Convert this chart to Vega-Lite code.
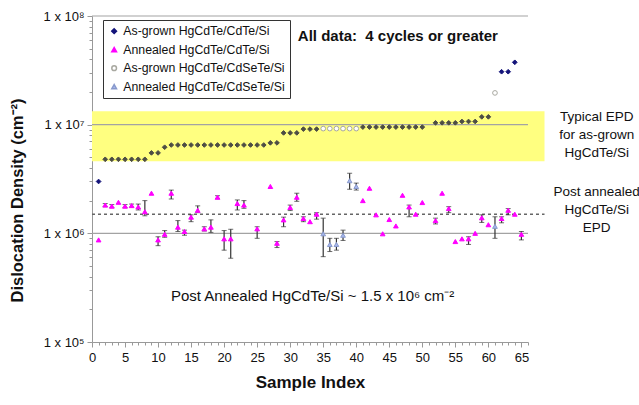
{
  "$schema": "https://vega.github.io/schema/vega-lite/v6.json",
  "autosize": "none",
  "width": 436,
  "height": 326,
  "padding": {"left": 92, "top": 16, "right": 111, "bottom": 63},
  "config": {
    "font": "Liberation Sans",
    "view": {"stroke": null},
    "axis": {"labelFont": "Liberation Sans", "titleFont": "Liberation Sans", "labelColor": "#111", "titleColor": "#111", "labelOverlap": false}
  },
  "datasets": {
    "pts": [
      {"i": 1, "v": 3.0e6, "s": "As-grown HgCdTe/CdTe/Si"},
      {"i": 2, "v": 4.8e6, "s": "As-grown HgCdTe/CdTe/Si"},
      {"i": 3, "v": 4.8e6, "s": "As-grown HgCdTe/CdTe/Si"},
      {"i": 4, "v": 4.8e6, "s": "As-grown HgCdTe/CdTe/Si"},
      {"i": 5, "v": 4.8e6, "s": "As-grown HgCdTe/CdTe/Si"},
      {"i": 6, "v": 4.8e6, "s": "As-grown HgCdTe/CdTe/Si"},
      {"i": 7, "v": 4.8e6, "s": "As-grown HgCdTe/CdTe/Si"},
      {"i": 8, "v": 4.8e6, "s": "As-grown HgCdTe/CdTe/Si"},
      {"i": 9, "v": 5.5e6, "s": "As-grown HgCdTe/CdTe/Si"},
      {"i": 10, "v": 5.5e6, "s": "As-grown HgCdTe/CdTe/Si"},
      {"i": 11, "v": 6.2e6, "s": "As-grown HgCdTe/CdTe/Si"},
      {"i": 12, "v": 6.5e6, "s": "As-grown HgCdTe/CdTe/Si"},
      {"i": 13, "v": 6.5e6, "s": "As-grown HgCdTe/CdTe/Si"},
      {"i": 14, "v": 6.5e6, "s": "As-grown HgCdTe/CdTe/Si"},
      {"i": 15, "v": 6.5e6, "s": "As-grown HgCdTe/CdTe/Si"},
      {"i": 16, "v": 6.5e6, "s": "As-grown HgCdTe/CdTe/Si"},
      {"i": 17, "v": 6.5e6, "s": "As-grown HgCdTe/CdTe/Si"},
      {"i": 18, "v": 6.5e6, "s": "As-grown HgCdTe/CdTe/Si"},
      {"i": 19, "v": 6.5e6, "s": "As-grown HgCdTe/CdTe/Si"},
      {"i": 20, "v": 6.5e6, "s": "As-grown HgCdTe/CdTe/Si"},
      {"i": 21, "v": 6.5e6, "s": "As-grown HgCdTe/CdTe/Si"},
      {"i": 22, "v": 6.5e6, "s": "As-grown HgCdTe/CdTe/Si"},
      {"i": 23, "v": 6.5e6, "s": "As-grown HgCdTe/CdTe/Si"},
      {"i": 24, "v": 6.5e6, "s": "As-grown HgCdTe/CdTe/Si"},
      {"i": 25, "v": 6.5e6, "s": "As-grown HgCdTe/CdTe/Si"},
      {"i": 26, "v": 6.5e6, "s": "As-grown HgCdTe/CdTe/Si"},
      {"i": 27, "v": 6.8e6, "s": "As-grown HgCdTe/CdTe/Si"},
      {"i": 28, "v": 6.8e6, "s": "As-grown HgCdTe/CdTe/Si"},
      {"i": 29, "v": 8.4e6, "s": "As-grown HgCdTe/CdTe/Si"},
      {"i": 30, "v": 8.4e6, "s": "As-grown HgCdTe/CdTe/Si"},
      {"i": 31, "v": 8.4e6, "s": "As-grown HgCdTe/CdTe/Si"},
      {"i": 32, "v": 9.1e6, "s": "As-grown HgCdTe/CdTe/Si"},
      {"i": 33, "v": 9.1e6, "s": "As-grown HgCdTe/CdTe/Si"},
      {"i": 34, "v": 9.1e6, "s": "As-grown HgCdTe/CdTe/Si"},
      {"i": 41, "v": 9.5e6, "s": "As-grown HgCdTe/CdTe/Si"},
      {"i": 42, "v": 9.5e6, "s": "As-grown HgCdTe/CdTe/Si"},
      {"i": 43, "v": 9.5e6, "s": "As-grown HgCdTe/CdTe/Si"},
      {"i": 44, "v": 9.5e6, "s": "As-grown HgCdTe/CdTe/Si"},
      {"i": 45, "v": 9.5e6, "s": "As-grown HgCdTe/CdTe/Si"},
      {"i": 46, "v": 9.5e6, "s": "As-grown HgCdTe/CdTe/Si"},
      {"i": 47, "v": 9.5e6, "s": "As-grown HgCdTe/CdTe/Si"},
      {"i": 48, "v": 9.5e6, "s": "As-grown HgCdTe/CdTe/Si"},
      {"i": 49, "v": 9.5e6, "s": "As-grown HgCdTe/CdTe/Si"},
      {"i": 50, "v": 9.5e6, "s": "As-grown HgCdTe/CdTe/Si"},
      {"i": 52, "v": 1.04e7, "s": "As-grown HgCdTe/CdTe/Si"},
      {"i": 53, "v": 1.04e7, "s": "As-grown HgCdTe/CdTe/Si"},
      {"i": 54, "v": 1.04e7, "s": "As-grown HgCdTe/CdTe/Si"},
      {"i": 55, "v": 1.04e7, "s": "As-grown HgCdTe/CdTe/Si"},
      {"i": 56, "v": 1.07e7, "s": "As-grown HgCdTe/CdTe/Si"},
      {"i": 57, "v": 1.07e7, "s": "As-grown HgCdTe/CdTe/Si"},
      {"i": 58, "v": 1.07e7, "s": "As-grown HgCdTe/CdTe/Si"},
      {"i": 59, "v": 1.18e7, "s": "As-grown HgCdTe/CdTe/Si"},
      {"i": 60, "v": 1.18e7, "s": "As-grown HgCdTe/CdTe/Si"},
      {"i": 62, "v": 3.07e7, "s": "As-grown HgCdTe/CdTe/Si"},
      {"i": 63, "v": 3.07e7, "s": "As-grown HgCdTe/CdTe/Si"},
      {"i": 64, "v": 3.75e7, "s": "As-grown HgCdTe/CdTe/Si"},
      {"i": 35, "v": 9.2e6, "s": "As-grown HgCdTe/CdSeTe/Si"},
      {"i": 36, "v": 9.2e6, "s": "As-grown HgCdTe/CdSeTe/Si"},
      {"i": 37, "v": 9.2e6, "s": "As-grown HgCdTe/CdSeTe/Si"},
      {"i": 38, "v": 9.2e6, "s": "As-grown HgCdTe/CdSeTe/Si"},
      {"i": 39, "v": 9.2e6, "s": "As-grown HgCdTe/CdSeTe/Si"},
      {"i": 40, "v": 9.2e6, "s": "As-grown HgCdTe/CdSeTe/Si"},
      {"i": 61, "v": 1.96e7, "s": "As-grown HgCdTe/CdSeTe/Si"},
      {"i": 1, "v": 8.7e5, "s": "Annealed HgCdTe/CdTe/Si"},
      {"i": 2, "v": 1.82e6, "lo": 1.76e6, "hi": 1.88e6, "s": "Annealed HgCdTe/CdTe/Si"},
      {"i": 3, "v": 1.78e6, "lo": 1.72e6, "hi": 1.84e6, "s": "Annealed HgCdTe/CdTe/Si"},
      {"i": 4, "v": 1.93e6, "s": "Annealed HgCdTe/CdTe/Si"},
      {"i": 5, "v": 1.78e6, "lo": 1.72e6, "hi": 1.84e6, "s": "Annealed HgCdTe/CdTe/Si"},
      {"i": 6, "v": 1.8e6, "lo": 1.74e6, "hi": 1.86e6, "s": "Annealed HgCdTe/CdTe/Si"},
      {"i": 7, "v": 1.75e6, "lo": 1.64e6, "hi": 1.86e6, "s": "Annealed HgCdTe/CdTe/Si"},
      {"i": 8, "v": 1.58e6, "lo": 1.45e6, "hi": 2.0e6, "s": "Annealed HgCdTe/CdTe/Si"},
      {"i": 9, "v": 2.34e6, "s": "Annealed HgCdTe/CdTe/Si"},
      {"i": 10, "v": 8.7e5, "lo": 7.7e5, "hi": 9.3e5, "s": "Annealed HgCdTe/CdTe/Si"},
      {"i": 11, "v": 9.8e5, "lo": 9.2e5, "hi": 1.06e6, "s": "Annealed HgCdTe/CdTe/Si"},
      {"i": 12, "v": 2.34e6, "lo": 2.07e6, "hi": 2.5e6, "s": "Annealed HgCdTe/CdTe/Si"},
      {"i": 13, "v": 1.14e6, "lo": 1.04e6, "hi": 1.31e6, "s": "Annealed HgCdTe/CdTe/Si"},
      {"i": 14, "v": 1.04e6, "lo": 9.6e5, "hi": 1.07e6, "s": "Annealed HgCdTe/CdTe/Si"},
      {"i": 15, "v": 1.41e6, "lo": 1.28e6, "hi": 1.48e6, "s": "Annealed HgCdTe/CdTe/Si"},
      {"i": 16, "v": 1.63e6, "lo": 1.55e6, "hi": 1.79e6, "s": "Annealed HgCdTe/CdTe/Si"},
      {"i": 17, "v": 1.1e6, "lo": 1.05e6, "hi": 1.15e6, "s": "Annealed HgCdTe/CdTe/Si"},
      {"i": 18, "v": 1.14e6, "lo": 1.02e6, "hi": 1.33e6, "s": "Annealed HgCdTe/CdTe/Si"},
      {"i": 19, "v": 2.15e6, "lo": 2.08e6, "hi": 2.22e6, "s": "Annealed HgCdTe/CdTe/Si"},
      {"i": 20, "v": 8.9e5, "lo": 7.0e5, "hi": 1.06e6, "s": "Annealed HgCdTe/CdTe/Si"},
      {"i": 21, "v": 8.9e5, "lo": 5.9e5, "hi": 1.09e6, "s": "Annealed HgCdTe/CdTe/Si"},
      {"i": 22, "v": 1.88e6, "lo": 1.64e6, "hi": 2.03e6, "s": "Annealed HgCdTe/CdTe/Si"},
      {"i": 23, "v": 1.82e6, "lo": 1.7e6, "hi": 2.0e6, "s": "Annealed HgCdTe/CdTe/Si"},
      {"i": 25, "v": 1.1e6, "lo": 9.0e5, "hi": 1.15e6, "s": "Annealed HgCdTe/CdTe/Si"},
      {"i": 27, "v": 2.7e6, "s": "Annealed HgCdTe/CdTe/Si"},
      {"i": 28, "v": 8.1e5, "lo": 7.4e5, "hi": 8.4e5, "s": "Annealed HgCdTe/CdTe/Si"},
      {"i": 29, "v": 1.33e6, "lo": 1.15e6, "hi": 1.41e6, "s": "Annealed HgCdTe/CdTe/Si"},
      {"i": 30, "v": 1.73e6, "lo": 1.62e6, "hi": 1.82e6, "s": "Annealed HgCdTe/CdTe/Si"},
      {"i": 31, "v": 2.15e6, "lo": 1.97e6, "hi": 2.34e6, "s": "Annealed HgCdTe/CdTe/Si"},
      {"i": 32, "v": 1.37e6, "lo": 1.28e6, "hi": 1.42e6, "s": "Annealed HgCdTe/CdTe/Si"},
      {"i": 33, "v": 1.28e6, "s": "Annealed HgCdTe/CdTe/Si"},
      {"i": 34, "v": 1.5e6, "lo": 1.35e6, "hi": 1.55e6, "s": "Annealed HgCdTe/CdTe/Si"},
      {"i": 41, "v": 2.0e6, "s": "Annealed HgCdTe/CdTe/Si"},
      {"i": 42, "v": 2.6e6, "s": "Annealed HgCdTe/CdTe/Si"},
      {"i": 43, "v": 1.48e6, "s": "Annealed HgCdTe/CdTe/Si"},
      {"i": 44, "v": 9.9e5, "s": "Annealed HgCdTe/CdTe/Si"},
      {"i": 45, "v": 1.34e6, "s": "Annealed HgCdTe/CdTe/Si"},
      {"i": 46, "v": 1.17e6, "s": "Annealed HgCdTe/CdTe/Si"},
      {"i": 47, "v": 2.24e6, "s": "Annealed HgCdTe/CdTe/Si"},
      {"i": 48, "v": 1.75e6, "lo": 1.42e6, "hi": 1.82e6, "s": "Annealed HgCdTe/CdTe/Si"},
      {"i": 49, "v": 1.5e6, "s": "Annealed HgCdTe/CdTe/Si"},
      {"i": 50, "v": 1.92e6, "s": "Annealed HgCdTe/CdTe/Si"},
      {"i": 52, "v": 1.31e6, "lo": 1.22e6, "hi": 1.38e6, "s": "Annealed HgCdTe/CdTe/Si"},
      {"i": 53, "v": 2.34e6, "s": "Annealed HgCdTe/CdTe/Si"},
      {"i": 54, "v": 1.69e6, "lo": 1.55e6, "hi": 1.76e6, "s": "Annealed HgCdTe/CdTe/Si"},
      {"i": 55, "v": 8.4e5, "s": "Annealed HgCdTe/CdTe/Si"},
      {"i": 56, "v": 8.9e5, "s": "Annealed HgCdTe/CdTe/Si"},
      {"i": 57, "v": 8.9e5, "lo": 7.9e5, "hi": 9.3e5, "s": "Annealed HgCdTe/CdTe/Si"},
      {"i": 58, "v": 1.0e6, "s": "Annealed HgCdTe/CdTe/Si"},
      {"i": 59, "v": 1.39e6, "lo": 1.26e6, "hi": 1.48e6, "s": "Annealed HgCdTe/CdTe/Si"},
      {"i": 60, "v": 1.2e6, "s": "Annealed HgCdTe/CdTe/Si"},
      {"i": 62, "v": 1.37e6, "lo": 1.25e6, "hi": 1.42e6, "s": "Annealed HgCdTe/CdTe/Si"},
      {"i": 63, "v": 1.63e6, "lo": 1.48e6, "hi": 1.69e6, "s": "Annealed HgCdTe/CdTe/Si"},
      {"i": 64, "v": 1.5e6, "s": "Annealed HgCdTe/CdTe/Si"},
      {"i": 65, "v": 9.8e5, "lo": 8.7e5, "hi": 1.04e6, "s": "Annealed HgCdTe/CdTe/Si"},
      {"i": 35, "v": 9.9e5, "lo": 6.1e5, "hi": 1.38e6, "s": "Annealed HgCdTe/CdSeTe/Si"},
      {"i": 36, "v": 7.9e5, "lo": 6.8e5, "hi": 9.0e5, "s": "Annealed HgCdTe/CdSeTe/Si"},
      {"i": 37, "v": 7.9e5, "lo": 7.0e5, "hi": 9.0e5, "s": "Annealed HgCdTe/CdSeTe/Si"},
      {"i": 38, "v": 9.6e5, "lo": 8.6e5, "hi": 1.07e6, "s": "Annealed HgCdTe/CdSeTe/Si"},
      {"i": 39, "v": 3.05e6, "lo": 2.55e6, "hi": 3.57e6, "s": "Annealed HgCdTe/CdSeTe/Si"},
      {"i": 40, "v": 2.7e6, "lo": 2.5e6, "hi": 2.9e6, "s": "Annealed HgCdTe/CdSeTe/Si"},
      {"i": 61, "v": 1.16e6, "lo": 9.0e5, "hi": 1.42e6, "s": "Annealed HgCdTe/CdSeTe/Si"}
    ]
  },
  "layer": [
    {
      "data": {"values": [{}]},
      "mark": {"type": "rect", "fill": "#ffff80"},
      "encoding": {
        "x": {"datum": 0, "type": "quantitative", "scale": {"domain": [0, 66], "nice": false}, "title": "Sample Index"},
        "x2": {"datum": 68.5},
        "y": {"datum": 4.6e6, "type": "quantitative", "scale": {"type": "log", "domain": [100000, 100000000], "nice": false}, "title": "Dislocation Density (cm⁻²)"},
        "y2": {"datum": 1.33e7}
      }
    },
    {
      "data": {"values": [{"g": 1000000}, {"g": 10000000}, {"g": 100000000}]},
      "mark": {"type": "rule", "color": "#a3a3a3", "strokeWidth": 1.2},
      "encoding": {
        "x": {"datum": 0, "type": "quantitative", "scale": {"domain": [0, 66], "nice": false}, "title": "Sample Index"},
        "x2": {"datum": 66},
        "y": {"field": "g", "type": "quantitative", "scale": {"type": "log", "domain": [100000, 100000000], "nice": false}, "title": "Dislocation Density (cm⁻²)"}
      }
    },
    {
      "data": {"values": [{}]},
      "mark": {"type": "rule", "color": "#666666", "strokeWidth": 1.6, "strokeDash": [3, 3]},
      "encoding": {
        "x": {"datum": 0, "type": "quantitative", "scale": {"domain": [0, 66], "nice": false}, "title": "Sample Index"},
        "x2": {"datum": 68.5},
        "y": {"datum": 1.5e6, "type": "quantitative", "scale": {"type": "log", "domain": [100000, 100000000], "nice": false}, "title": "Dislocation Density (cm⁻²)"}
      }
    },
    {
      "data": {"name": "pts"},
      "transform": [{"filter": "isValid(datum.lo)"}],
      "mark": {"type": "errorbar", "ticks": {"size": 5, "color": "#333333"}, "rule": {"color": "#333333", "strokeWidth": 1.2}},
      "encoding": {
        "x": {"field": "i", "type": "quantitative", "scale": {"domain": [0, 66], "nice": false}, "title": "Sample Index"},
        "y": {"field": "lo", "type": "quantitative", "scale": {"type": "log", "domain": [100000, 100000000], "nice": false}, "title": "Dislocation Density (cm⁻²)"},
        "y2": {"field": "hi"}
      }
    },
    {
      "data": {"name": "pts"},
      "mark": {"type": "point", "filled": false, "size": 22, "strokeWidth": 1, "opacity": 1},
      "encoding": {
        "x": {
          "field": "i", "type": "quantitative",
          "scale": {"domain": [0, 66], "nice": false},
          "title": "Sample Index",
          "axis": {
            "values": [0,1,2,3,4,5,6,7,8,9,10,11,12,13,14,15,16,17,18,19,20,21,22,23,24,25,26,27,28,29,30,31,32,33,34,35,36,37,38,39,40,41,42,43,44,45,46,47,48,49,50,51,52,53,54,55,56,57,58,59,60,61,62,63,64,65,66],
            "tickCount": 200,
            "labelExpr": "datum.value % 5 == 0 ? '' + datum.value : ''",
            "labelOverlap": false,
            "labelFlush": false,
            "labelFontSize": 13,
            "labelPadding": 4,
            "tickSize": {"condition": {"test": "datum.value % 5 == 0", "value": 5}, "value": 3},
            "tickColor": "#999999",
            "domainColor": "#999999",
            "grid": false,
            "titleFontSize": 17,
            "titleFontWeight": "bold",
            "titlePadding": 10
          }
        },
        "y": {
          "field": "v", "type": "quantitative",
          "scale": {"type": "log", "domain": [100000, 100000000], "nice": false},
          "title": "Dislocation Density (cm⁻²)",
          "axis": {
            "values": [100000,200000,300000,400000,500000,600000,700000,800000,900000,1000000,2000000,3000000,4000000,5000000,6000000,7000000,8000000,9000000,10000000,20000000,30000000,40000000,50000000,60000000,70000000,80000000,90000000,100000000],
            "tickCount": 200,
            "labelExpr": "datum.value == 100000 ? '1 x 10⁵' : datum.value == 1000000 ? '1 x 10⁶' : datum.value == 10000000 ? '1 x 10⁷' : datum.value == 100000000 ? '1 x 10⁸' : ''",
            "labelOverlap": false,
            "labelFontSize": 13,
            "labelPadding": 3,
            "tickSize": {"condition": {"test": "datum.value == 100000 || datum.value == 1000000 || datum.value == 10000000 || datum.value == 100000000", "value": 5}, "value": 3},
            "tickColor": "#999999",
            "domainColor": "#999999",
            "grid": false,
            "titleFontSize": 16.5,
            "titleFontWeight": "bold",
            "titleX": -75,
            "titleY": 184,
            "titleAlign": "center",
            "titleBaseline": "middle",
            "titleAngle": 270
          }
        },
        "shape": {
          "field": "s", "type": "nominal", "title": null,
          "scale": {
            "domain": ["As-grown HgCdTe/CdTe/Si", "Annealed HgCdTe/CdTe/Si", "As-grown HgCdTe/CdSeTe/Si", "Annealed HgCdTe/CdSeTe/Si"],
            "range": ["diamond", "triangle-up", "circle", "triangle-up"]
          },
          "legend": {
            "orient": "none", "legendX": 11, "legendY": 4,
            "strokeColor": "#333333", "fillColor": "#ffffff",
            "padding": 5, "rowPadding": 5.5, "labelFontSize": 12.3, "labelColor": "#111111",
            "labelLimit": 400,
            "symbolSize": 22, "labelOffset": 3, "symbolOffset": 0
          }
        },
        "fill": {
          "condition": {"test": "datum.s == 'As-grown HgCdTe/CdTe/Si' && datum.v < 15000000 && datum.v > 4000000", "value": "#4d4d44"},
          "field": "s", "type": "nominal", "title": null,
          "scale": {
            "domain": ["As-grown HgCdTe/CdTe/Si", "Annealed HgCdTe/CdTe/Si", "As-grown HgCdTe/CdSeTe/Si", "Annealed HgCdTe/CdSeTe/Si"],
            "range": ["#14147a", "#ff00ff", "#ffffff", "#a8b8ee"]
          }
        },
        "stroke": {
          "condition": {"test": "datum.s == 'As-grown HgCdTe/CdTe/Si' && datum.v < 15000000 && datum.v > 4000000", "value": "#4d4d44"},
          "field": "s", "type": "nominal", "title": null,
          "scale": {
            "domain": ["As-grown HgCdTe/CdTe/Si", "Annealed HgCdTe/CdTe/Si", "As-grown HgCdTe/CdSeTe/Si", "Annealed HgCdTe/CdSeTe/Si"],
            "range": ["#14147a", "#ff00ff", "#a8a8a0", "#8899cc"]
          }
        }
      }
    },
    {
      "data": {"values": [{}]},
      "mark": {"type": "text", "text": "All data:\u00a0 4 cycles or greater", "fontSize": 15, "fontWeight": "bold", "color": "#111111", "align": "center", "baseline": "middle"},
      "encoding": {
        "x": {"datum": 46.3, "type": "quantitative", "scale": {"domain": [0, 66], "nice": false}, "title": "Sample Index"},
        "y": {"datum": 6.5e7, "type": "quantitative", "scale": {"type": "log", "domain": [100000, 100000000], "nice": false}, "title": "Dislocation Density (cm⁻²)"}
      }
    },
    {
      "data": {"values": [{}]},
      "mark": {"type": "text", "text": "Post Annealed HgCdTe/Si ~ 1.5 x 10⁶ cm⁻²", "fontSize": 15, "color": "#111111", "align": "center", "baseline": "middle"},
      "encoding": {
        "x": {"datum": 33.4, "type": "quantitative", "scale": {"domain": [0, 66], "nice": false}, "title": "Sample Index"},
        "y": {"datum": 2.65e5, "type": "quantitative", "scale": {"type": "log", "domain": [100000, 100000000], "nice": false}, "title": "Dislocation Density (cm⁻²)"}
      }
    },
    {
      "data": {"values": [{}]},
      "mark": {"type": "text", "text": ["Typical EPD", "for as-grown", "HgCdTe/Si"], "fontSize": 13.5, "lineHeight": 18, "color": "#111111", "align": "center", "baseline": "middle"},
      "encoding": {
        "x": {"datum": 76.4, "type": "quantitative", "scale": {"domain": [0, 66], "nice": false}, "title": "Sample Index"},
        "y": {"datum": 1.18e7, "type": "quantitative", "scale": {"type": "log", "domain": [100000, 100000000], "nice": false}, "title": "Dislocation Density (cm⁻²)"}
      }
    },
    {
      "data": {"values": [{}]},
      "mark": {"type": "text", "text": ["Post annealed", "HgCdTe/Si", "EPD"], "fontSize": 13.5, "lineHeight": 18, "color": "#111111", "align": "center", "baseline": "middle"},
      "encoding": {
        "x": {"datum": 76.4, "type": "quantitative", "scale": {"domain": [0, 66], "nice": false}, "title": "Sample Index"},
        "y": {"datum": 2.4e6, "type": "quantitative", "scale": {"type": "log", "domain": [100000, 100000000], "nice": false}, "title": "Dislocation Density (cm⁻²)"}
      }
    }
  ]
}
